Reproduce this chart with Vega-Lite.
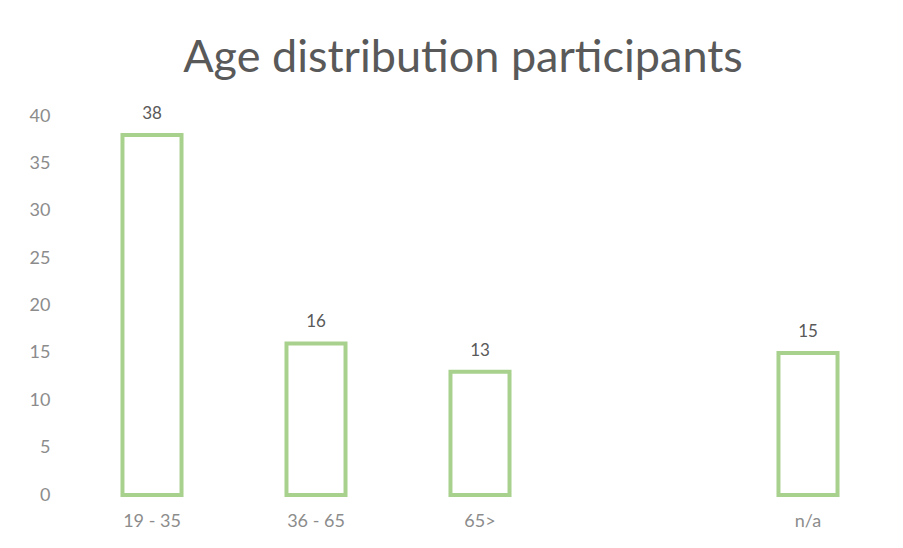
{
  "$schema": "https://vega.github.io/schema/vega-lite/v6.json",
  "width": 820,
  "height": 379,
  "autosize": "none",
  "padding": {"left": 70, "top": 116, "right": 13, "bottom": 53},
  "background": "white",
  "config": {"view": {"stroke": null}, "font": "Lato"},
  "title": {
    "text": "Age distribution participants",
    "fontSize": 45,
    "fontWeight": "normal",
    "color": "#595959",
    "font": "Lato",
    "anchor": "middle",
    "dx": -17,
    "offset": 24
  },
  "data": {
    "values": [
      {"age": "19 - 35", "count": 38},
      {"age": "36 - 65", "count": 16},
      {"age": "65>", "count": 13},
      {"age": "n/a", "count": 15}
    ]
  },
  "encoding": {
    "x": {
      "field": "age",
      "type": "nominal",
      "sort": null,
      "scale": {"domain": ["19 - 35", "36 - 65", "65>", " ", "n/a"], "paddingInner": 0.64, "paddingOuter": 0.32},
      "axis": {"title": null, "labelAngle": 0, "domain": false, "ticks": false, "labelFontSize": 18, "labelColor": "#8c8c8c", "labelPadding": 17, "labelFont": "Lato"}
    },
    "y": {
      "field": "count",
      "type": "quantitative",
      "scale": {"domain": [0, 40]},
      "axis": {"title": null, "values": [0, 5, 10, 15, 20, 25, 30, 35, 40], "grid": false, "domain": false, "ticks": false, "labelFontSize": 18, "labelColor": "#8c8c8c", "labelPadding": 20, "labelFont": "Lato"}
    }
  },
  "layer": [
    {"mark": {"type": "bar", "fill": "white", "stroke": "#a9d18e", "strokeWidth": 4}},
    {"mark": {"type": "text", "baseline": "bottom", "dy": -12, "fontSize": 17, "color": "#595959", "font": "Lato"}, "encoding": {"text": {"field": "count", "type": "quantitative"}}}
  ]
}
